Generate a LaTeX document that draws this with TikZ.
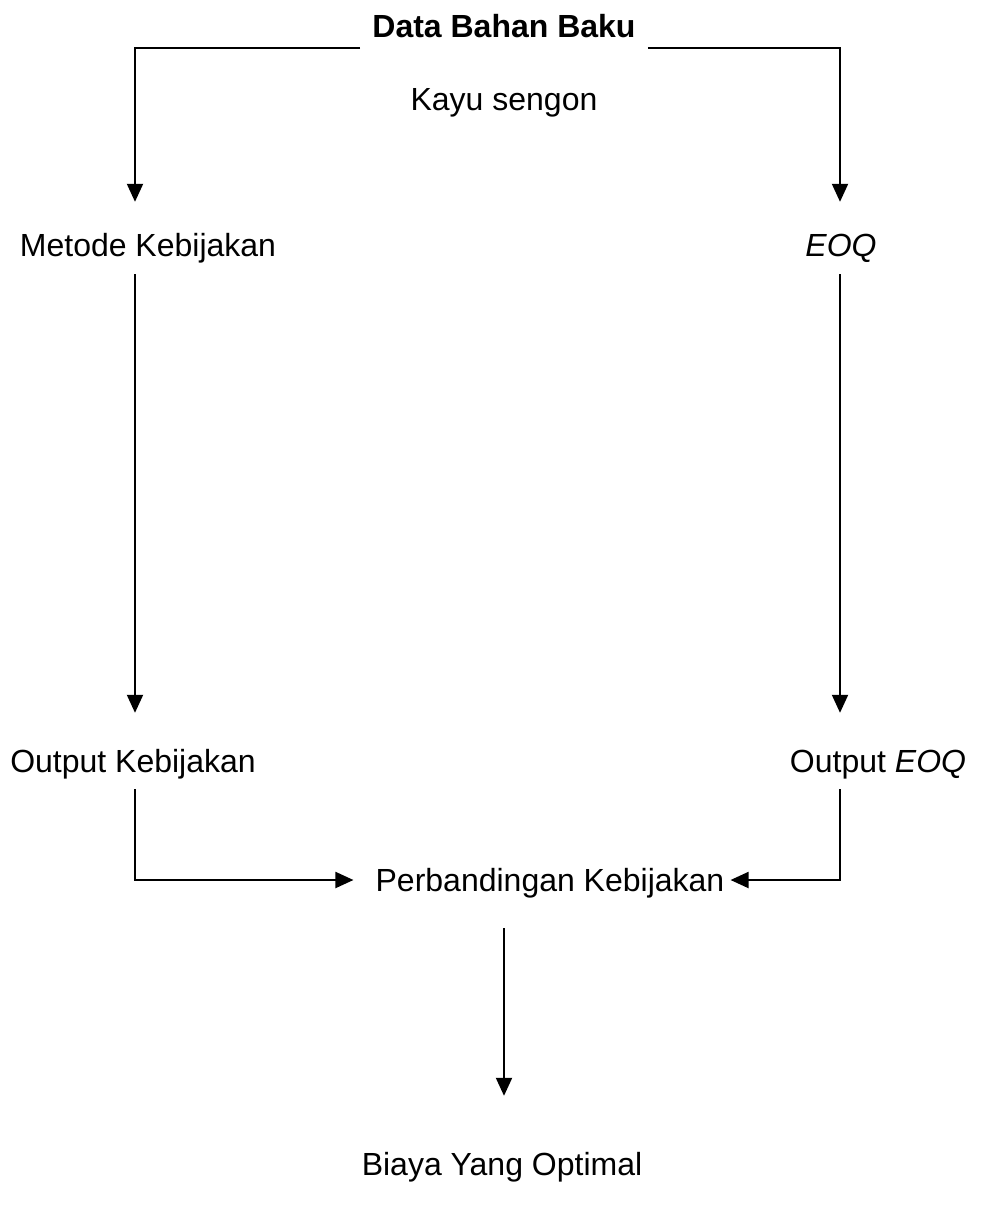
\documentclass[tikz,border=0pt]{standalone}
\usepackage{fontspec}
\setmainfont{Liberation Sans}
\usetikzlibrary{arrows.meta}
\begin{document}
\begin{tikzpicture}[x=1pt,y=-1pt,
  lbl/.style={font=\fontsize{32}{38}\selectfont, inner sep=0pt, text height=23pt, text depth=7pt, anchor=base},
  boldlbl/.style={lbl, font=\bfseries\fontsize{32}{38}\selectfont},
  arr/.style={line width=2pt, -{Triangle[width=16pt,length=18pt]}}]
\useasboundingbox (0,0) rectangle (981,1220);
\coordinate (L) at (135,0);
\coordinate (R) at (840,0);
\coordinate (C) at (504,0);
\node[boldlbl] (dbb) at (504,38) {Data Bahan Baku};
\node[lbl] (kayu) at (504,111) {Kayu sengon};
\node[lbl] (metode) at (148,256) {Metode Kebijakan};
\node[lbl] (eoq) at (841,256) {\itshape EOQ};
\node[lbl] (outk) at (133,772) {Output Kebijakan};
\node[lbl] (outeoq) at (878,772) {Output \textit{EOQ}};
\node[lbl] (perb) at (550,891) {Perbandingan Kebijakan};
\node[lbl] (biaya) at (502,1175) {Biaya Yang Optimal};
\draw[arr, shorten >=31pt] ([xshift=-12pt,yshift=-10pt]dbb.base west) -| (metode.north -| L);
\draw[arr, shorten >=31pt] ([xshift=12pt,yshift=-10pt]dbb.base east) -| (eoq.north -| R);
\draw[arr, shorten <=11pt, shorten >=36pt] (metode.south -| L) -- (outk.north -| L);
\draw[arr, shorten <=11pt, shorten >=36pt] (eoq.south -| R) -- (outeoq.north -| R);
\draw[arr, shorten <=10pt, shorten >=22pt] (outk.south -| L) |- ([yshift=11pt]perb.base west);
\draw[arr, shorten <=10pt, shorten >=6pt] (outeoq.south -| R) |- ([yshift=11pt]perb.base east);
\draw[arr, shorten <=30pt, shorten >=56pt] (perb.south -| C) -- (biaya.north -| C);
\end{tikzpicture}
\end{document}
